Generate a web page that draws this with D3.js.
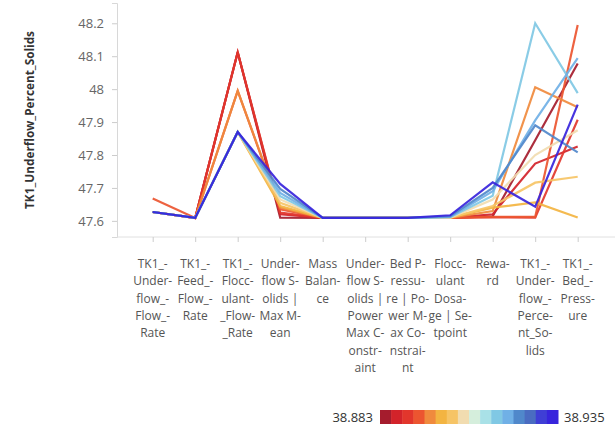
<!DOCTYPE html>
<html>
<head>
<meta charset="utf-8">
<script src="https://cdn.jsdelivr.net/npm/d3@7"></script>
<style>
  html, body { margin: 0; padding: 0; background: #fff; }
  svg text { font-family: "Open Sans", "Noto Sans", sans-serif; }
</style>
</head>
<body>
<svg id="chart" width="615" height="429"></svg>
<script>
// ---- data ----
const categories = [
  "TK1_Underflow_Flow_Rate", "TK1_Feed_Flow_Rate", "TK1_Flocculant_Flow_Rate",
  "Underflow Solids | Max Mean", "Mass Balance", "Underflow Solids | Power Max Constraint",
  "Bed Pressure | Power Max Constraint", "Flocculant Dosage | Setpoint", "Reward",
  "TK1_Underflow_Percent_Solids", "TK1_Bed_Pressure"
];
const xTickLines = [
  ["TK1_-", "Under-", "flow_-", "Flow_-", "Rate"],
  ["TK1_-", "Feed_-", "Flow_-", "Rate"],
  ["TK1_-", "Flocc-", "ulant-", "_Flow-", "_Rate"],
  ["Under-", "flow S-", "olids |", "Max M-", "ean"],
  ["Mass", "Balan-", "ce"],
  ["Under-", "flow S-", "olids |", "Power", "Max C-", "onstr-", "aint"],
  ["Bed P-", "ressu-", "re | Po-", "wer M-", "ax Co-", "nstrai-", "nt"],
  ["Flocc-", "ulant", "Dosa-", "ge | Se-", "tpoint"],
  ["Rewa-", "rd"],
  ["TK1_-", "Under-", "flow_-", "Perce-", "nt_So-", "lids"],
  ["TK1_-", "Bed_-", "Press-", "ure"]
];
const yTicks = [47.6, 47.7, 47.8, 47.9, 48.0, 48.1, 48.2];
const yTitle = "TK1_Underflow_Percent_Solids";
const colorDomain = [38.883, 38.935];
const legendLabels = ["38.883", "38.935"];

// colour value of each line
const lineColorValues = [38.884, 38.888, 38.891, 38.895, 38.899, 38.902, 38.905, 38.909, 38.917, 38.919, 38.925, 38.934];
// values of each line at the 11 categories
const line0  = [47.627, 47.609, 48.112, 47.610, 47.609, 47.609, 47.609, 47.609, 47.614, 47.845, 48.078];
const line1  = [47.627, 47.609, 48.112, 47.620, 47.609, 47.609, 47.609, 47.609, 47.620, 47.774, 47.826];
const line2  = [47.627, 47.609, 48.112, 47.625, 47.609, 47.609, 47.609, 47.609, 47.611, 47.610, 47.907];
const line3  = [47.668, 47.609, 47.995, 47.635, 47.609, 47.609, 47.609, 47.609, 47.612, 47.612, 48.195];
const line4  = [47.627, 47.609, 47.995, 47.640, 47.609, 47.609, 47.609, 47.609, 47.630, 48.006, 47.945];
const line5  = [47.627, 47.609, 47.870, 47.645, 47.609, 47.609, 47.609, 47.610, 47.640, 47.656, 47.610];
const line6  = [47.627, 47.609, 47.870, 47.655, 47.609, 47.609, 47.609, 47.610, 47.645, 47.716, 47.734];
const line7  = [47.627, 47.609, 47.870, 47.665, 47.609, 47.609, 47.609, 47.610, 47.665, 47.800, 47.875];
const line8  = [47.627, 47.609, 47.870, 47.675, 47.609, 47.609, 47.609, 47.611, 47.676, 48.200, 47.988];
const line9  = [47.627, 47.609, 47.870, 47.685, 47.609, 47.609, 47.609, 47.612, 47.690, 47.905, 48.094];
const line10 = [47.627, 47.609, 47.870, 47.697, 47.609, 47.609, 47.609, 47.614, 47.700, 47.890, 47.808];
const line11 = [47.627, 47.609, 47.870, 47.712, 47.609, 47.609, 47.609, 47.617, 47.717, 47.643, 47.953];
const lineValues = [line0, line1, line2, line3, line4, line5, line6, line7, line8, line9, line10, line11];

// ---- style ----
const palette = ["#a51c2d", "#d3232a", "#e2362c", "#ec5530", "#f08a3d", "#f3b441", "#f6c466",
  "#f1dcb0", "#d5eedc", "#a9e1e7", "#80c8e4", "#70b0e6", "#5088cb", "#4a6cc1", "#3f3ed5", "#3724dc"];

const svg = d3.select("#chart");

const x = d3.scalePoint().domain(categories).range([152.7, 577.7]);
const y = d3.scaleLinear().domain([47.551, 48.2616]).range([237, 3]);
const color = d3.scaleQuantize().domain(colorDomain).range(palette);

// y axis
const yAxis = svg.append("g").attr("transform", "translate(117,0)")
  .call(d3.axisLeft(y).tickValues(yTicks).tickSizeOuter(0).tickSize(5).tickPadding(8)
    .tickFormat(d => d3.format("")(+d.toFixed(1))));
yAxis.select(".domain").attr("stroke", "#d8d8d8");
yAxis.selectAll(".tick line").attr("stroke", "#cccccc");
yAxis.selectAll(".tick text").attr("fill", "#666").attr("font-size", 13);

// x axis
const xAxis = svg.append("g").attr("transform", "translate(0,237)")
  .call(d3.axisBottom(x).tickSize(5).tickSizeOuter(0).tickFormat(""));
xAxis.select(".domain").attr("d", "M117,0H615").attr("stroke", "#e0e0e0");
xAxis.selectAll(".tick line").attr("stroke", "#cccccc");

const labels = svg.append("g");
categories.forEach((c, i) => {
  const t = labels.append("text")
    .attr("x", x(c)).attr("y", 268)
    .attr("text-anchor", "middle").attr("font-size", 12).attr("fill", "#555");
  xTickLines[i].forEach((ln, j) => {
    t.append("tspan").attr("x", x(c)).attr("dy", j === 0 ? 0 : 17.3).text(ln);
  });
});

// y title
svg.append("text")
  .attr("transform", "translate(34,120) rotate(-90)")
  .attr("text-anchor", "middle").attr("font-size", 11.8).attr("font-weight", "bold")
  .attr("fill", "#333").text(yTitle);

// lines
const lineGen = d3.line().x((d, i) => x(categories[i])).y(d => y(d));
svg.append("g").selectAll("path")
  .data(lineValues.map((v, i) => ({ v, c: lineColorValues[i] })))
  .join("path")
  .attr("d", d => lineGen(d.v))
  .attr("fill", "none")
  .attr("stroke", d => color(d.c))
  .attr("stroke-width", 2.2)
  .attr("stroke-opacity", 0.92)
  .attr("stroke-linejoin", "miter");

// legend
const lx = d3.scaleBand().domain(d3.range(palette.length)).range([380, 558]);
const lg = svg.append("g");
lg.selectAll("rect").data(palette).join("rect")
  .attr("x", (d, i) => lx(i)).attr("y", 410)
  .attr("width", lx.bandwidth() + 0.5).attr("height", 14)
  .attr("fill", d => d);
lg.append("text").attr("x", 373).attr("y", 422).attr("text-anchor", "end")
  .attr("font-size", 13).attr("fill", "#333").text(legendLabels[0]);
lg.append("text").attr("x", 564).attr("y", 422).attr("text-anchor", "start")
  .attr("font-size", 13).attr("fill", "#333").text(legendLabels[1]);
</script>
</body>
</html>
